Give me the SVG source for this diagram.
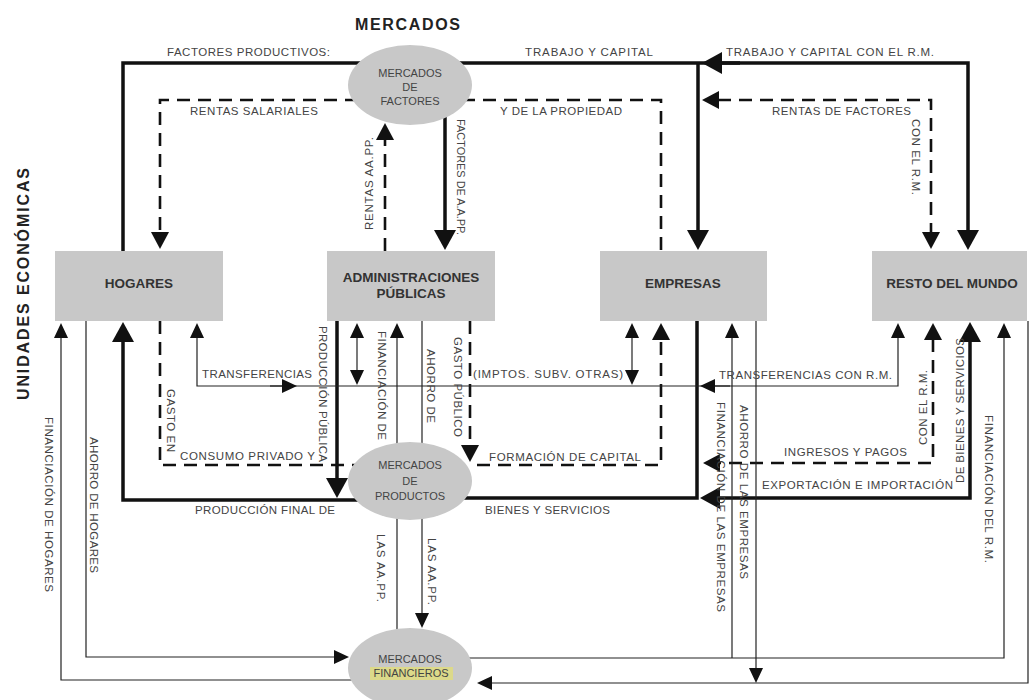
<svg xmlns="http://www.w3.org/2000/svg" width="1033" height="700" viewBox="0 0 1033 700">
<style>
.box{fill:#c8c8c8}
.ell{fill:#c8c8c8}
.nt{font-family:"Liberation Sans",Arial,sans-serif;font-weight:bold;font-size:13.5px;fill:#333;text-anchor:middle}
.et{font-family:"Liberation Sans",Arial,sans-serif;font-size:11px;fill:#444;text-anchor:middle}
.lb{font-family:"Liberation Sans",Arial,sans-serif;font-size:11.5px;fill:#444}
.ti{font-family:"Liberation Sans",Arial,sans-serif;font-weight:bold;font-size:16px;fill:#222}
.thick{fill:none;stroke:#111;stroke-width:3.5}
.dash{fill:none;stroke:#111;stroke-width:2.6;stroke-dasharray:13 8}
.thin{fill:none;stroke:#222;stroke-width:1.2}
</style>
<defs>
<marker id="aThick" viewBox="0 0 20 22" markerWidth="20" markerHeight="22" refX="1" refY="11" orient="auto-start-reverse" markerUnits="userSpaceOnUse"><path d="M0,0 L20,11 L0,22 Z" fill="#111"/></marker>
<marker id="aDash" viewBox="0 0 17 18" markerWidth="17" markerHeight="18" refX="1" refY="9" orient="auto-start-reverse" markerUnits="userSpaceOnUse"><path d="M0,0 L17,9 L0,18 Z" fill="#111"/></marker>
<marker id="aThin" viewBox="0 0 15 14" markerWidth="15" markerHeight="14" refX="1" refY="7" orient="auto-start-reverse" markerUnits="userSpaceOnUse"><path d="M0,0 L15,7 L0,14 Z" fill="#111"/></marker>
</defs>

<g id="connectors">
<!-- thick -->
<path class="thick" d="M123,251 V63 H365"/>
<path class="thick" d="M455,63 H968 V231" marker-end="url(#aThick)"/>
<path class="thick" d="M740,63 H721" marker-end="url(#aThick)"/>
<path class="thick" d="M698,63 V231" marker-end="url(#aThick)"/>
<path class="thick" d="M445,112 V231" marker-end="url(#aThick)"/>
<path class="thick" d="M362,500 H123 V341" marker-end="url(#aThick)"/>
<path class="thick" d="M337,321 V479" marker-end="url(#aThick)"/>
<path class="thick" d="M697,321 V498 H460"/>
<path class="thick" d="M970,341 V498 H719" marker-start="url(#aThick)" marker-end="url(#aThick)"/>
<!-- dashed -->
<path class="dash" d="M358,100 H160 V233" marker-end="url(#aDash)"/>
<path class="dash" d="M462,100 H661 V251"/>
<path class="dash" d="M718,100 H931 V233" marker-start="url(#aDash)" marker-end="url(#aDash)"/>
<path class="dash" d="M385,251 V139" marker-end="url(#aDash)"/>
<path class="dash" d="M160,321 V465 H360"/>
<path class="dash" d="M470,321 V446" marker-end="url(#aDash)"/>
<path class="dash" d="M477,465 H661 V339" marker-end="url(#aDash)"/>
<path class="dash" d="M933,339 V463 H719" marker-start="url(#aDash)" marker-end="url(#aDash)"/>
<!-- thin -->
<path class="thin" d="M197,337 V386 H898 V337" marker-start="url(#aThin)" marker-end="url(#aThin)"/>
<path class="thin" d="M270,386 H283" marker-end="url(#aThin)"/>
<path class="thin" d="M730,386 H714" marker-end="url(#aThin)"/>
<path class="thin" d="M357,337 V371" marker-start="url(#aThin)" marker-end="url(#aThin)"/>
<path class="thin" d="M632,337 V371" marker-start="url(#aThin)" marker-end="url(#aThin)"/>
<path class="thin" d="M397,629 V337" marker-end="url(#aThin)"/>
<path class="thin" d="M422,321 V614" marker-end="url(#aThin)"/>
<path class="thin" d="M355,680 H61 V337" marker-end="url(#aThin)"/>
<path class="thin" d="M86,321 V657 H335" marker-end="url(#aThin)"/>
<path class="thin" d="M465,658 H1004 V337" marker-end="url(#aThin)"/>
<path class="thin" d="M732,658 V337" marker-end="url(#aThin)"/>
<path class="thin" d="M756,321 V669" marker-end="url(#aThin)"/>
<path class="thin" d="M1028,321 V683 H491" marker-end="url(#aThin)"/>
</g>

<g id="hogares">
<rect class="box" x="55" y="251" width="168" height="70"/>
<text class="nt" x="139" y="288">HOGARES</text>
</g>
<g id="administraciones">
<rect class="box" x="327" y="251" width="168" height="70"/>
<text class="nt" x="411" y="282">ADMINISTRACIONES</text>
<text class="nt" x="411" y="298">PÚBLICAS</text>
</g>
<g id="empresas">
<rect class="box" x="600" y="251" width="167" height="70"/>
<text class="nt" x="683" y="288">EMPRESAS</text>
</g>
<g id="resto">
<rect class="box" x="872" y="251" width="155" height="70"/>
<text class="nt" x="952" y="288">RESTO DEL MUNDO</text>
</g>
<g id="mercados-factores">
<ellipse class="ell" cx="410" cy="85" rx="62" ry="40"/>
<text class="et" x="410" y="77">MERCADOS</text>
<text class="et" x="410" y="91">DE</text>
<text class="et" x="410" y="105">FACTORES</text>
</g>
<g id="mercados-productos">
<ellipse class="ell" cx="410" cy="481" rx="62" ry="39"/>
<text class="et" x="410" y="469">MERCADOS</text>
<text class="et" x="410" y="485">DE</text>
<text class="et" x="410" y="500">PRODUCTOS</text>
</g>
<g id="mercados-financieros">
<ellipse class="ell" cx="410" cy="668" rx="62" ry="40"/>
<rect x="370" y="667" width="83" height="13" fill="#dcd98a"/>
<text class="et" x="410" y="663">MERCADOS</text>
<text class="et" x="411" y="677">FINANCIEROS</text>
</g>

<g id="titles">
<text class="ti" x="355" y="30" font-size="17" textLength="105" lengthAdjust="spacing">MERCADOS</text>
<text class="ti" transform="translate(29,400) rotate(-90)" textLength="232" lengthAdjust="spacing">UNIDADES ECONÓMICAS</text>
</g>

<g id="labels" class="lb">
<text x="167" y="56" textLength="163" lengthAdjust="spacing">FACTORES PRODUCTIVOS:</text>
<text x="525" y="56" textLength="128" lengthAdjust="spacing">TRABAJO Y CAPITAL</text>
<text x="726" y="56" textLength="208" lengthAdjust="spacing">TRABAJO Y CAPITAL CON EL R.M.</text>
<text x="190" y="115" textLength="128" lengthAdjust="spacing">RENTAS SALARIALES</text>
<text x="500" y="115" textLength="122" lengthAdjust="spacing">Y DE LA PROPIEDAD</text>
<text x="772" y="115" textLength="139" lengthAdjust="spacing">RENTAS DE FACTORES</text>
<text x="202" y="378" textLength="110" lengthAdjust="spacing">TRANSFERENCIAS</text>
<text x="473" y="378" textLength="150" lengthAdjust="spacing">(IMPTOS. SUBV. OTRAS)</text>
<text x="719" y="379" textLength="173" lengthAdjust="spacing">TRANSFERENCIAS CON R.M.</text>
<text x="180" y="460" textLength="135" lengthAdjust="spacing">CONSUMO PRIVADO Y</text>
<text x="489" y="461" textLength="152" lengthAdjust="spacing">FORMACIÓN DE CAPITAL</text>
<text x="784" y="456" textLength="123" lengthAdjust="spacing">INGRESOS Y PAGOS</text>
<text x="762" y="489" textLength="191" lengthAdjust="spacing">EXPORTACIÓN E IMPORTACIÓN</text>
<text x="195" y="514" textLength="140" lengthAdjust="spacing">PRODUCCIÓN FINAL DE</text>
<text x="485" y="514" textLength="125" lengthAdjust="spacing">BIENES Y SERVICIOS</text>

<text transform="translate(457,119) rotate(90)" font-size="10.5" textLength="116" lengthAdjust="spacingAndGlyphs">FACTORES DE A.A.PP.</text>
<text transform="translate(912,119) rotate(90)" textLength="76" lengthAdjust="spacing">CON EL R.M.</text>
<text transform="translate(319,326) rotate(90)" textLength="136" lengthAdjust="spacing">PRODUCCIÓN PÚBLICA</text>
<text transform="translate(167,389) rotate(90)" textLength="63" lengthAdjust="spacing">GASTO EN</text>
<text transform="translate(378,331) rotate(90)" textLength="109" lengthAdjust="spacing">FINANCIACIÓN DE</text>
<text transform="translate(427,349) rotate(90)" textLength="74" lengthAdjust="spacing">AHORRO DE</text>
<text transform="translate(454,337) rotate(90)" textLength="100" lengthAdjust="spacing">GASTO PÚBLICO</text>
<text transform="translate(377,534) rotate(90)" textLength="68" lengthAdjust="spacing">LAS AA.PP.</text>
<text transform="translate(428,538) rotate(90)" textLength="67" lengthAdjust="spacing">LAS AA.PP.</text>
<text transform="translate(45,417) rotate(90)" textLength="175" lengthAdjust="spacing">FINANCIACIÓN DE HOGARES</text>
<text transform="translate(90,437) rotate(90)" textLength="136" lengthAdjust="spacing">AHORRO DE HOGARES</text>
<text transform="translate(717,402) rotate(90)" textLength="210" lengthAdjust="spacing">FINANCIACIÓN DE LAS EMPRESAS</text>
<text transform="translate(740,405) rotate(90)" textLength="174" lengthAdjust="spacing">AHORRO DE LAS EMPRESAS</text>
<text transform="translate(985,415) rotate(90)" textLength="148" lengthAdjust="spacing">FINANCIACIÓN DEL R.M.</text>

<text transform="translate(373,230) rotate(-90)" textLength="93" lengthAdjust="spacing">RENTAS AA.PP.</text>
<text transform="translate(927,445) rotate(-90)" textLength="75" lengthAdjust="spacing">CON EL R.M.</text>
<text transform="translate(964,483) rotate(-90)" textLength="145" lengthAdjust="spacing">DE BIENES Y SERVICIOS</text>
</g>
</svg>
